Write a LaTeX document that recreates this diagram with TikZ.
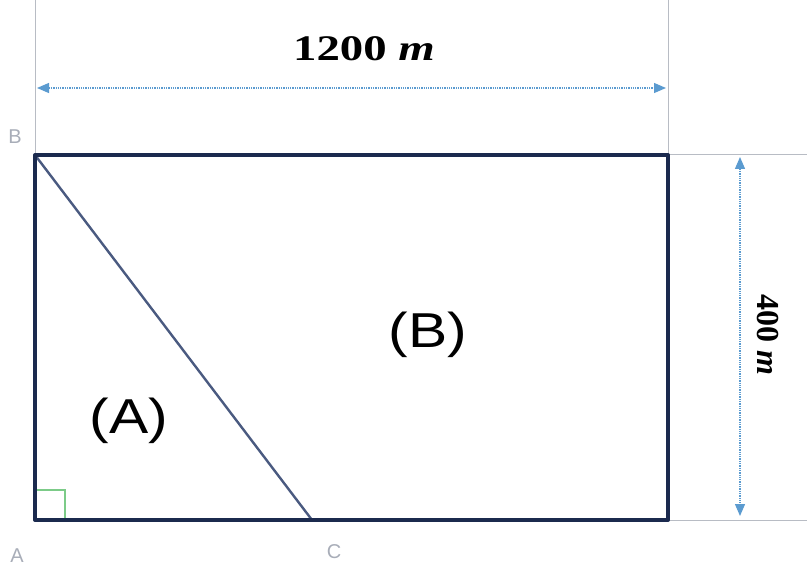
\documentclass[tikz,border=0pt]{standalone}
\usepackage{fontspec}
\setmainfont{Liberation Serif}
\setsansfont{Liberation Sans}
\usetikzlibrary{arrows.meta}
\definecolor{navy}{HTML}{1B2A4E}
\definecolor{slate}{HTML}{4A5A80}
\definecolor{dimblue}{HTML}{5B9BD0}
\definecolor{extgray}{HTML}{B8BCC4}
\definecolor{lblgray}{HTML}{A8ADB8}
\definecolor{rgreen}{HTML}{7CCB88}
\tikzset{
  edge/.style={navy, line width=4pt},
  diag/.style={slate, line width=2.4pt},
  ext/.style={extgray, line width=1pt},
  dimline/.style={dimblue, line width=1.3pt, densely dotted, {Triangle[length=12pt,width=10pt,fill=dimblue]}-{Triangle[length=12pt,width=10pt,fill=dimblue]}},
  region/.style={font=\sffamily\fontsize{49}{58}\selectfont, xscale=1.2, inner sep=0},
  dimtext/.style={font=\bfseries\fontsize{36}{42}\selectfont, xscale=1.3, inner sep=0},
  dimtextv/.style={font=\bfseries\fontsize{32}{38}\selectfont, inner sep=0, rotate=-90},
  pt/.style={font=\sffamily\fontsize{20}{24}\selectfont, text=lblgray, inner sep=0}
}
\begin{document}
\begin{tikzpicture}[x=1pt,y=-1pt]
\useasboundingbox (0,0) rectangle (807,580);
\coordinate (B) at (35,155);
\coordinate (Dc) at (668,155);
\coordinate (A) at (35,520);
\coordinate (E) at (668,520);
\coordinate (C) at (312,520);
% extension lines
\coordinate (e1) at (35,0);
\coordinate (e2) at (668,0);
\coordinate (e3) at (807,155);
\coordinate (e4) at (807,520);
\draw[ext] (e1) -- (B);
\draw[ext] (e2) -- (Dc);
\draw[ext] (Dc) -- (e3);
\draw[ext] (E) -- (e4);
% dimension arrows
\coordinate (h1) at (37,88);
\coordinate (h2) at (666,88);
\coordinate (v1) at (740,157);
\coordinate (v2) at (740,516);
\draw[dimline] (h1) -- (h2);
\draw[dimline] (v1) -- (v2);
\node[dimtext] (t1) at (364,49) {1200 \textit{m}};
\node[dimtextv] (t2) at (768,335) {400 \textit{m}};
% right angle mark
\coordinate (r1) at (35,490);
\coordinate (r2) at (65,490);
\coordinate (r3) at (65,520);
\draw[rgreen, line width=2pt] (r1) -- (r2) -- (r3);
% shapes
\draw[diag] (B) -- (C);
\draw[edge, line join=round] (B) -- (Dc) -- (E) -- (A) -- cycle;
% labels
\node[region] (lA) at (129,421) {(A)};
\node[region] (lB) at (428,335) {(B)};
\node[pt] (pB) at (15,137) {B};
\node[pt] (pA) at (17,556) {A};
\node[pt] (pC) at (334,552) {C};
\end{tikzpicture}
\end{document}
